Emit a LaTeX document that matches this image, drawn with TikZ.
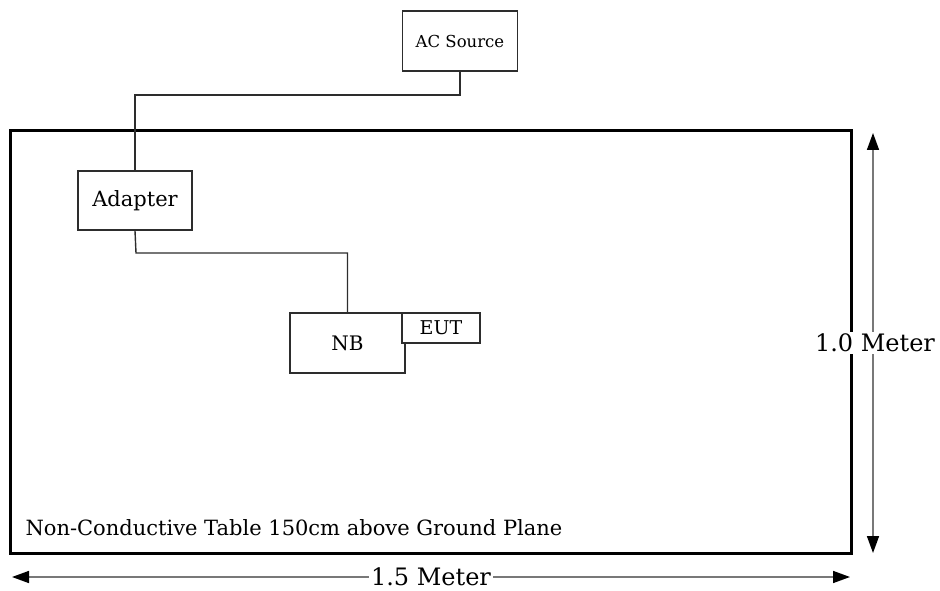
\documentclass[tikz,border=0pt]{standalone}
\usepackage{fontspec}
\setmainfont{DejaVu Serif}
\usetikzlibrary{arrows.meta,positioning}
\definecolor{wire}{RGB}{45,45,45}
\definecolor{dimline}{RGB}{120,120,120}
\tikzset{
  unit/.style={draw=wire,line width=1.4pt,fill=white,inner sep=0pt,align=center,
    font=\fontsize{#1}{#1}\selectfont},
  unit/.default=20,
  cable/.style={draw=wire,line width=1.4pt},
  dimarrow/.style={<->,draw=dimline,line width=1.6pt,>={Triangle[length=17pt,width=12pt,color=black]}},
  dimtag/.style={fill=white,inner sep=2pt,font=\fontsize{24}{24}\selectfont},
}
\begin{document}
\begin{tikzpicture}[x=1pt,y=-1pt]
  \useasboundingbox (0,0) rectangle (940,591);
  % table
  \draw[line width=3pt] (10,131) rectangle (851,553);
  \node[anchor=west,font=\fontsize{21}{21}\selectfont] (table) at (22,528)
    {Non-Conductive Table 150cm above Ground Plane};
  % units
  \node[unit=16.5,minimum width=115pt,minimum height=60pt] (ac) at (460,41) {AC Source};
  \node[unit=21,minimum width=114pt,minimum height=59pt] (adapter) at (135,200.5) {Adapter};
  \node[unit,minimum width=115pt,minimum height=60pt] (nb) at (347.5,343) {NB};
  \node[unit=19,minimum width=78pt,minimum height=30pt] (eut) at (441,328) {EUT};
  % cables
  \coordinate (bendA) at (460,95);
  \coordinate (bendB) at (136,253);
  \draw[cable] (ac.south) -- (bendA) -| (adapter.north);
  \draw[cable] (adapter.south) -- (bendB) -| (nb.north);
  % dimensions
  \coordinate (hL) at (12,577);
  \coordinate (hR) at (850,577);
  \coordinate (vT) at (873,133);
  \coordinate (vB) at (873,553);
  \draw[dimarrow] (hL) -- (hR);
  \draw[dimarrow] (vT) -- (vB);
  \node[dimtag] (width) at (431,577) {1.5 Meter};
  \node[dimtag] (height) at (875,343) {1.0 Meter};
\end{tikzpicture}
\end{document}
